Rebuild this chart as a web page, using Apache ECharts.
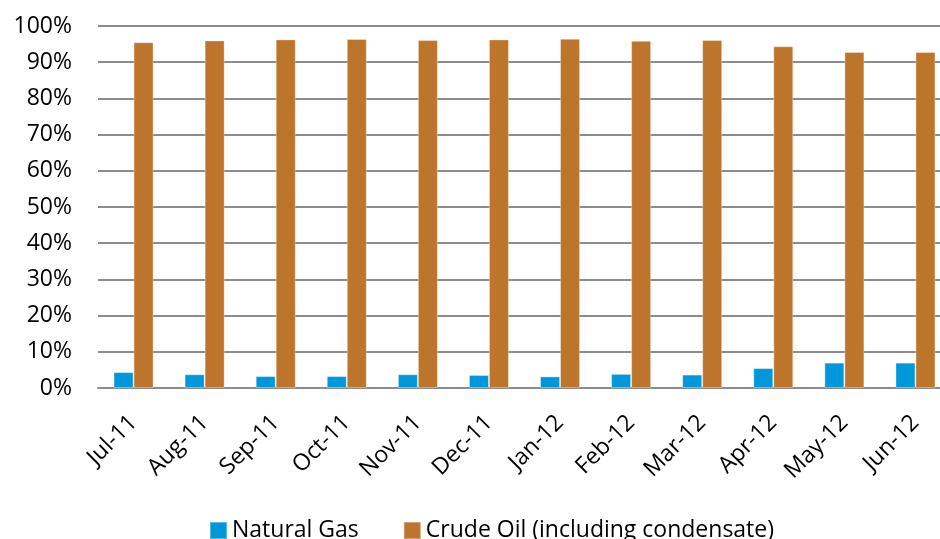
<!DOCTYPE html>
<html>
<head>
<meta charset="utf-8">
<script src="https://cdn.jsdelivr.net/npm/echarts@6/dist/echarts.min.js"></script>
<style>html,body{margin:0;padding:0;background:#fff}#c{width:940px;height:539px}</style>
</head>
<body>
<div id="c"></div>
<script>
var categories = ['Jul-11','Aug-11','Sep-11','Oct-11','Nov-11','Dec-11','Jan-12','Feb-12','Mar-12','Apr-12','May-12','Jun-12'];
var naturalGas = [4.4, 3.8, 3.3, 3.3, 3.8, 3.6, 3.2, 3.9, 3.7, 5.5, 7.0, 7.0];
var crudeOil = [95.5, 96.0, 96.3, 96.4, 96.1, 96.3, 96.5, 95.9, 96.1, 94.4, 92.8, 92.8];
var yTicks = [0, 10, 20, 30, 40, 50, 60, 70, 80, 90, 100];

var font = 'Open Sans';
var chart = echarts.init(document.getElementById('c'), null, {renderer: 'canvas'});
chart.setOption({
  animation: false,
  textStyle: {fontFamily: font},
  grid: {left: 98, top: 26, height: 362, width: 853, outerBoundsMode: 'none', containLabel: false},
  legend: {
    bottom: -8, left: 204,
    itemWidth: 17, itemHeight: 17, itemGap: 44,
    textStyle: {fontFamily: font, fontSize: 23, color: '#000', padding: [0, 0, 0, 0]},
    icon: 'rect',
    data: ['Natural Gas', 'Crude Oil (including condensate)']
  },
  xAxis: {
    type: 'category',
    data: categories,
    axisLine: {lineStyle: {color: '#8c8c8c', width: 2}},
    axisTick: {show: false},
    axisLabel: {rotate: 45, fontSize: 23, color: '#000', margin: 31, fontFamily: font, interval: 0}
  },
  yAxis: {
    type: 'value',
    min: yTicks[0], max: yTicks[yTicks.length - 1], interval: 10,
    axisLine: {show: false},
    axisTick: {show: false},
    splitLine: {lineStyle: {color: '#8c8c8c', width: 2}},
    axisLabel: {formatter: '{value}%', fontSize: 23, color: '#000', margin: 26, fontFamily: font}
  },
  series: [
    {
      name: 'Natural Gas', type: 'bar', data: naturalGas,
      barWidth: 20, barGap: '0%',
      itemStyle: {color: '#0098D8', borderColor: 'rgba(255,255,255,0.35)', borderWidth: 1}
    },
    {
      name: 'Crude Oil (including condensate)', type: 'bar', data: crudeOil,
      barWidth: 20, barGap: '0%',
      itemStyle: {color: '#BD742B', borderColor: 'rgba(255,255,255,0.35)', borderWidth: 1}
    }
  ]
});
</script>
</body>
</html>
